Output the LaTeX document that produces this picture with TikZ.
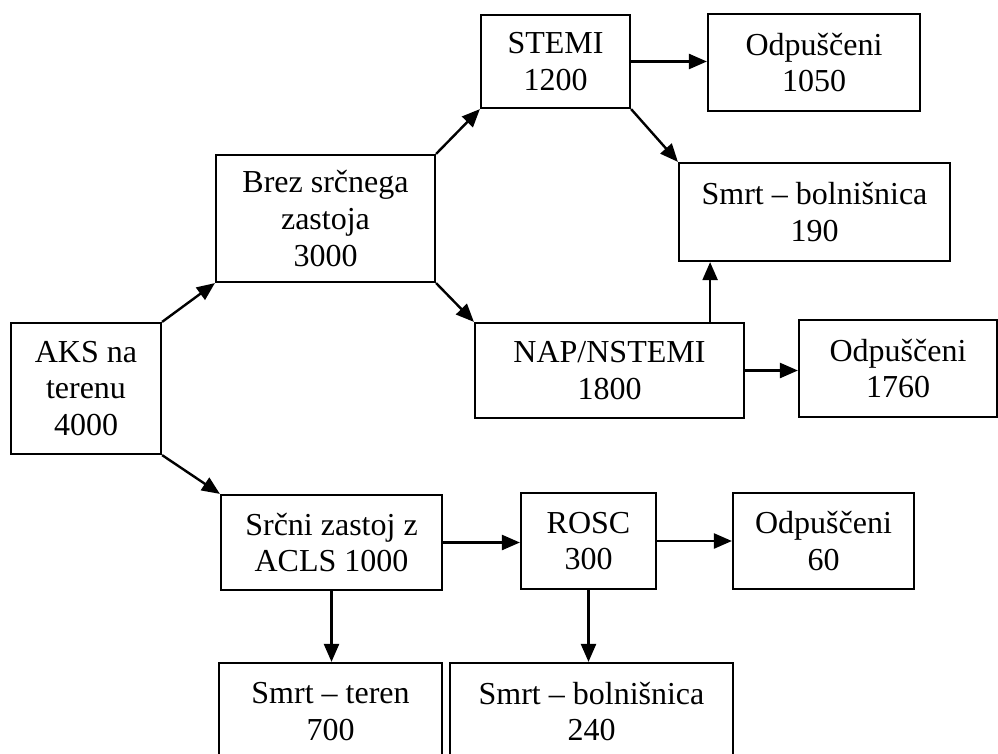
\documentclass[tikz,border=0pt]{standalone}
\usepackage{fontspec}
\setmainfont{Liberation Serif}
\usetikzlibrary{arrows.meta}

\begin{document}
\begin{tikzpicture}[x=1pt, y=-1pt, box/.style={draw, line width=2.2pt, inner sep=0pt, align=center, font=\fontsize{32}{36.7}\selectfont}, arr/.style={line width=2.4pt, -{Triangle[length=18pt, width=15pt]}}] %y runs downwards so the numbers are page positions
\clip (0,0) rectangle (998,754);
\node[box, minimum width=150pt, minimum height=131pt](aks) at (86,388.5){AKS na\\terenu\\4000};
\node[box, minimum width=219pt, minimum height=127pt](brez) at (325.5,218.5){Brez srčnega\\zastoja\\3000};
\node[box, minimum width=149pt, minimum height=93pt](stemi) at (555.5,61.5){STEMI\\1200};
\node[box, minimum width=212pt, minimum height=97pt](odpA) at (814,62.5){Odpuščeni\\1050};
\node[box, minimum width=271pt, minimum height=98pt](smrtA) at (814.5,212){Smrt – bolnišnica\\190};
\node[box, minimum width=269pt, minimum height=95pt](nap) at (609.5,370.5){NAP/NSTEMI\\1800};
\node[box, minimum width=198pt, minimum height=97pt](odpB) at (898,368.5){Odpuščeni\\1760};
\node[box, minimum width=221pt, minimum height=95pt](zastoj) at (331.5,542.5){Srčni zastoj z\\ACLS 1000};
\node[box, minimum width=135pt, minimum height=96pt](rosc) at (588.5,541){ROSC\\300};
\node[box, minimum width=181pt, minimum height=96pt](odpC) at (823.5,541){Odpuščeni\\60};
\node[box, minimum width=223pt, minimum height=97pt](teren) at (330.5,711.5){Smrt – teren\\700};
\node[box, minimum width=283pt, minimum height=97pt](smrtB) at (591.5,711.5){Smrt – bolnišnica\\240};

\draw[arr] (aks.north east) -- (brez.south west);
\draw[arr] (aks.south east) -- (zastoj.north west);
\draw[arr] (brez.north east) -- (stemi.south west);
\draw[arr] (brez.south east) -- (nap.north west);
\draw[arr] (stemi.east) -- (stemi.east -| odpA.west);
\draw[arr] (stemi.south east) -- (smrtA.north west);
\draw[arr] ([xshift=-35pt]nap.north east) -- ([xshift=-35pt]nap.north east |- smrtA.south);
\draw[arr] (nap.east) -- (nap.east -| odpB.west);
\draw[arr] (zastoj.east) -- (zastoj.east -| rosc.west);
\draw[arr] (rosc.east) -- (rosc.east -| odpC.west);
\draw[arr] (zastoj.south) -- (zastoj.south |- teren.north);
\draw[arr] (rosc.south) -- (rosc.south |- smrtB.north);
\end{tikzpicture}
\end{document}
